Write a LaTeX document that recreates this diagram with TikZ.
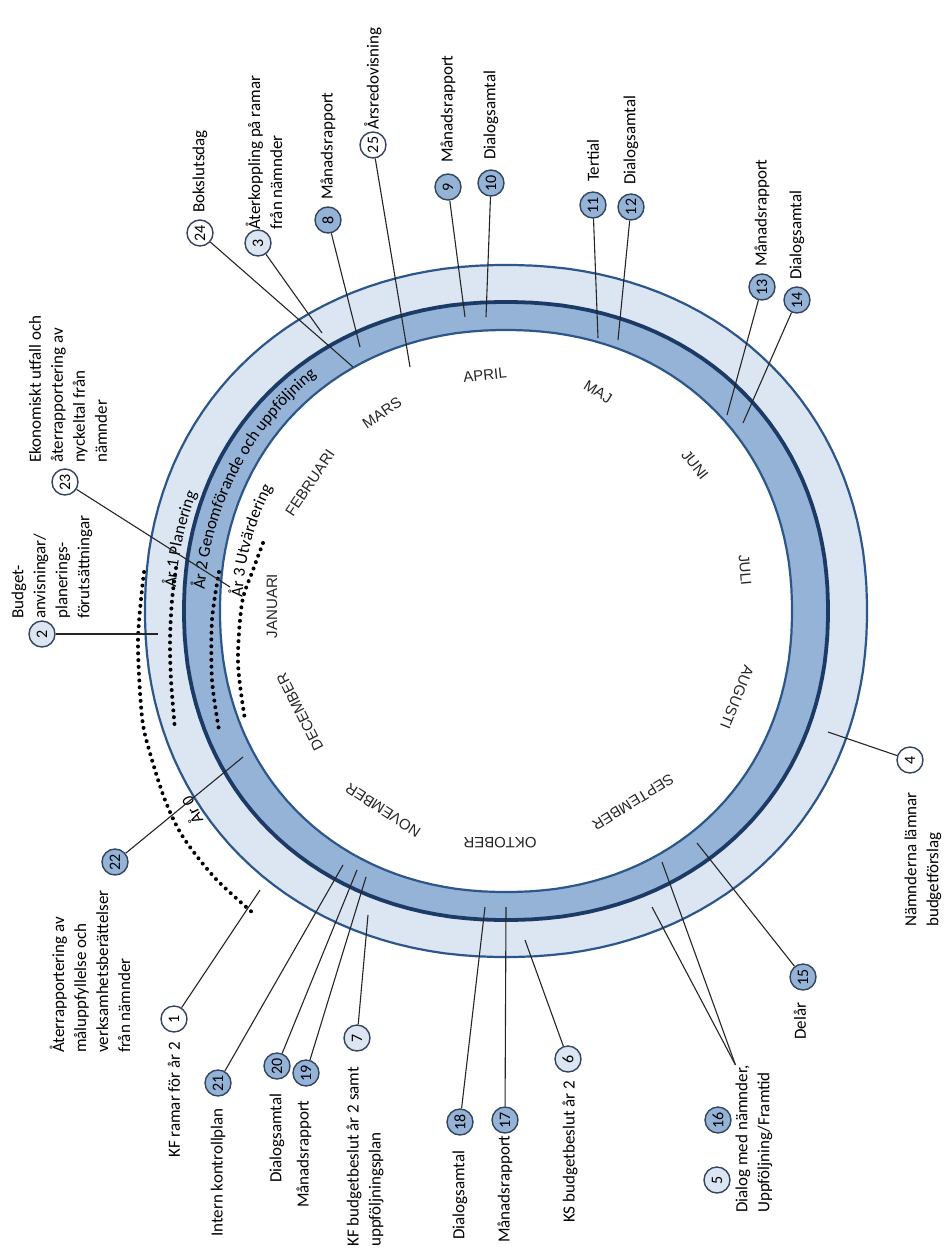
\documentclass[tikz,border=0pt]{standalone}
\usepackage{fontspec}
\setmainfont{Carlito}
\newfontfamily\monthfam{Liberation Sans}
\usetikzlibrary{decorations.text}
\definecolor{lightband}{HTML}{DCE6F2}
\definecolor{darkband}{HTML}{95B3D7}
\definecolor{ringline}{HTML}{2D578A}
\definecolor{midline}{HTML}{1C3A66}
\definecolor{circlebd}{HTML}{34455E}
\newcommand\labfont{\fontsize{17}{22}\selectfont}
\newcommand\numfont{\fontsize{16}{16}\selectfont}
\newcommand\monfont{\monthfam\fontsize{15}{15}\selectfont}
\begin{document}
\begin{tikzpicture}[x=1pt,y=-1pt,
  num/.style={circle,draw=circlebd,line width=1.4pt,minimum size=26pt,inner sep=0pt,font=\numfont,rotate=90},
  numA/.style={num,fill=darkband},
  numB/.style={num,fill=lightband},
  numW/.style={num,fill=white},
  lab/.style={rotate=90,anchor=west,align=left,font=\labfont,inner sep=0pt},
  con/.style={draw=black!85,line width=1.1pt},
  mon/.style={font=\monfont,text=black!85,inner sep=0pt},
  yeardots/.style={line width=4pt,dash pattern=on 0pt off 6.8pt,line cap=round,draw=black}]

\useasboundingbox (0,0) rectangle (945,1258);
\fill[white] (0,0) rectangle (945,1258);

% ---- ring ----
\filldraw[fill=lightband,draw=ringline,line width=2.2pt]
  plot[domain=1.25:358.75,samples=144] ({506+361*sign(cos(\x))*abs(cos(\x))^0.94},{611+346*sign(sin(\x))*abs(sin(\x))^0.94}) -- cycle;
\filldraw[fill=darkband,draw=midline,line width=3.8pt]
  plot[domain=1.25:358.75,samples=144] ({506+322*sign(cos(\x))*abs(cos(\x))^0.94},{611+309*sign(sin(\x))*abs(sin(\x))^0.94}) -- cycle;
\filldraw[fill=white,draw=ringline,line width=2.2pt]
  plot[domain=1.25:358.75,samples=144] ({506+286*sign(cos(\x))*abs(cos(\x))^0.94},{611+281*sign(sin(\x))*abs(sin(\x))^0.94}) -- cycle;

% ---- year dotted arcs ----
\draw[yeardots] plot[smooth] coordinates {(144,572) (138,640) (142,717) (150,753) (165,800) (183,837) (215,878) (253,913)};
\draw[yeardots] plot[smooth] coordinates {(176,568) (172,600) (170,640) (171,680) (175,730)};
\draw[yeardots] plot[smooth] coordinates {(219,572) (212,620) (212,680) (219,730)};
\draw[yeardots] plot[smooth] coordinates {(263,543) (253,570) (242,603) (238,663) (245,720)};

% ---- year texts along the ring ----
\path[decorate,decoration={text along path,text align=left,text={|\labfont|År 1 Planering}}]
  plot[domain=0:60,samples=61] ({506+331*cos(176-\x)},{611-331*sin(176-\x)});
\path[decorate,decoration={text along path,text align=left,text={|\labfont|År 2 Genomförande och uppföljning}}]
  plot[domain=0:75,samples=76] ({506+302*cos(176-\x)},{611-302*sin(176-\x)});
\path[decorate,decoration={text along path,text align=left,text={|\labfont|År 3 Utvärdering}}]
  plot[domain=0:60,samples=61] ({506+264*cos(177-\x)},{611-264*sin(177-\x)});
\node[font=\labfont,rotate=116,inner sep=0pt] (ar0) at (191,811) {År 0};

% ---- months ----
\node[mon,rotate=90]   (jan) at (272,606) {JANUARI};
\node[mon,rotate=56]   (feb) at (310,483) {FEBRUARI};
\node[mon,rotate=34]   (mar) at (382,413) {MARS};
\node[mon,rotate=6]    (apr) at (485,375) {APRIL};
\node[mon,rotate=-32]  (maj) at (598,392) {MAJ};
\node[mon,rotate=-52]  (jun) at (695,465) {JUNI};
\node[mon,rotate=-85]  (jul) at (745,570) {JULI};
\node[mon,rotate=-112] (aug) at (737,697) {AUGUSTI};
\node[mon,rotate=-148] (sep) at (633,802) {SEPTEMBER};
\node[mon,rotate=180]  (okt) at (500,843) {OKTOBER};
\node[mon,rotate=147]  (nov) at (383,810) {NOVEMBER};
\node[mon,rotate=117]  (dec) at (300,712) {DECEMBER};

% ---- numbered circles ----
\node[numW] (n1) at (174,1019) {1};
\node[numB] (n2) at (42,634) {2};
\node[numB] (n3) at (258,243) {3};
\node[numW] (n4) at (910,760) {4};
\node[numB] (n5) at (717,1180) {5};
\node[numB] (n6) at (568,1059) {6};
\node[numB] (n7) at (357,1038) {7};
\node[numA] (n8) at (328,220) {8};
\node[numA] (n9) at (448,187) {9};
\node[numA] (n10) at (491,183) {10};
\node[numA] (n11) at (593,205) {11};
\node[numA] (n12) at (631,207) {12};
\node[numA] (n13) at (762,287) {13};
\node[numA] (n14) at (797,300) {14};
\node[numA] (n15) at (803,977) {15};
\node[numA] (n16) at (718,1120) {16};
\node[numA] (n17) at (505,1120) {17};
\node[numA] (n18) at (460,1122) {18};
\node[numA] (n19) at (306,1073) {19};
\node[numA] (n20) at (277,1066) {20};
\node[numA] (n21) at (218,1083) {21};
\node[numA] (n22) at (115,862) {22};
\node[numW] (n23) at (65,482) {23};
\node[numW] (n24) at (200,233) {24};
\node[numW] (n25) at (373,145) {25};

% ---- labels ----
\node[lab] (l1) at (174,1158) {KF ramar för år 2};
\node[lab] (l2) at (52,619) {Budget-\\anvisningar/\\planerings-\\förutsättningar};
\node[lab] (l3) at (264,230) {Återkoppling på ramar\\från nämnder};
\node[lab] (l4) at (923,927) {Nämnderna lämnar\\budgetförslag};
\node[lab] (l16) at (754,1213) {Dialog med nämnder,\\Uppföljning/Framtid};
\node[lab] (l6) at (570,1223) {KS budgetbeslut år 2};
\node[lab] (l7) at (365,1247) {KF budgetbeslut år 2 samt\\uppföljningsplan};
\node[lab] (l8) at (328,200) {Månadsrapport};
\node[lab] (l9) at (448,163) {Månadsrapport};
\node[lab] (l10) at (491,160) {Dialogsamtal};
\node[lab] (l11) at (593,182) {Tertial};
\node[lab] (l12) at (631,185) {Dialogsamtal};
\node[lab] (l13) at (762,267) {Månadsrapport};
\node[lab] (l14) at (797,280) {Dialogsamtal};
\node[lab] (l15) at (800,1040) {Delår};
\node[lab] (l17) at (505,1243) {Månadsrapport};
\node[lab] (l18) at (460,1240) {Dialogsamtal};
\node[lab] (l19) at (304,1208) {Månadsrapport};
\node[lab] (l20) at (277,1183) {Dialogsamtal};
\node[lab] (l21) at (218,1237) {Intern kontrollplan};
\node[lab] (l22) at (90,1053) {Återrapportering av\\måluppfyllelse och\\verksamhetsberättelser\\från nämnder};
\node[lab] (l23) at (68,463) {Ekonomiskt utfall och\\återrapportering av\\nyckeltal från\\nämnder};
\node[lab] (l24) at (200,213) {Bokslutsdag};
\node[lab] (l25) at (373,130) {Årsredovisning};

% ---- connector end points in the ring ----
\coordinate (p1) at (260,890);
\coordinate (p2) at (158,634);
\coordinate (p3) at (322,333);
\coordinate (p4) at (828,732);
\coordinate (p5) at (652,907);
\coordinate (p6) at (525,940);
\coordinate (p7) at (368,915);
\coordinate (p8) at (360,347);
\coordinate (p9) at (465,317);
\coordinate (p10) at (486,317);
\coordinate (p11) at (598,338);
\coordinate (p12) at (618,340);
\coordinate (p13) at (727,415);
\coordinate (p14) at (743,423);
\coordinate (p15) at (697,843);
\coordinate (p16) at (662,862);
\coordinate (p17) at (506,907);
\coordinate (p18) at (485,907);
\coordinate (p19) at (366,877);
\coordinate (p20) at (357,870);
\coordinate (p21) at (343,865);
\coordinate (p22) at (243,757);
\coordinate (p23) at (230,587);
\coordinate (p24) at (353,367);
\coordinate (p25) at (410,367);

% ---- connectors ----
\foreach \i in {1,2,3,4,6,7,8,9,10,11,12,13,14,15,17,18,19,20,21,22,23,24,25}
  {\draw[con] (n\i) -- (p\i);}
\draw[con] (l16.north east) -- (p16);
\draw[con] (l16.north east) -- (p5);
\end{tikzpicture}
\end{document}
